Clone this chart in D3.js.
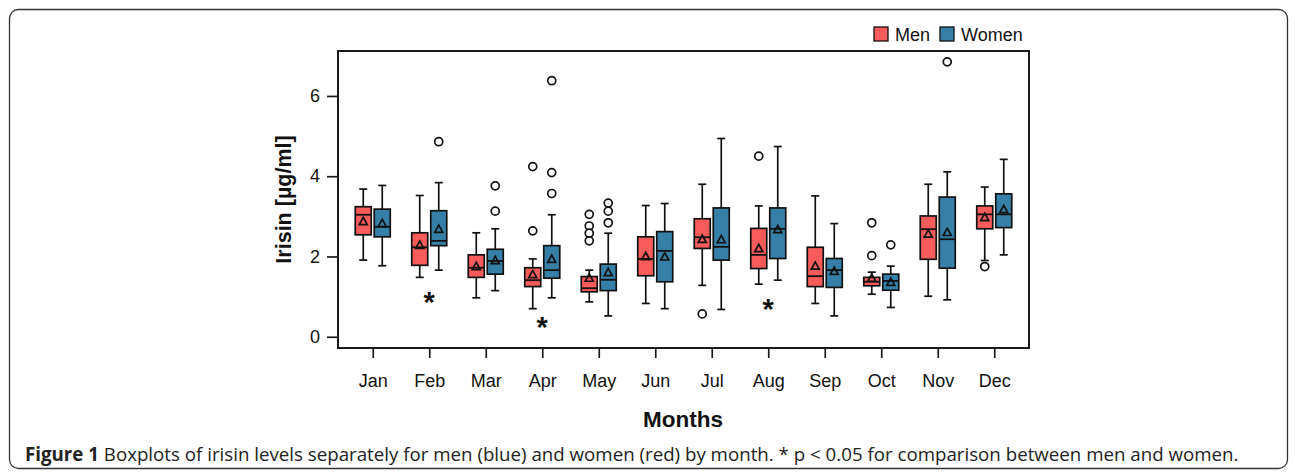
<!DOCTYPE html>
<html>
<head>
<meta charset="utf-8">
<script src="https://cdn.jsdelivr.net/npm/d3@7"></script>
<style>
  body { margin: 0; background: #fff; }
  svg { display: block; }
</style>
</head>
<body>
<div id="chart"></div>
<script>
// months on the x axis
const months = ['Jan', 'Feb', 'Mar', 'Apr', 'May', 'Jun', 'Jul', 'Aug', 'Sep', 'Oct', 'Nov', 'Dec'];
const yTicks = [0, 2, 4, 6];

// men (red)
const menLow    = [1.91, 1.48, 0.97, 0.70, 0.87, 0.83, 1.28, 1.31, 0.83, 1.06, 1.01, 1.90];
const menQ1     = [2.54, 1.78, 1.48, 1.25, 1.12, 1.52, 2.20, 1.70, 1.25, 1.27, 1.93, 2.69];
const menMedian = [3.04, 2.23, 1.72, 1.41, 1.21, 1.94, 2.48, 2.04, 1.51, 1.37, 2.68, 3.05];
const menQ3     = [3.24, 2.59, 2.04, 1.72, 1.50, 2.49, 2.94, 2.70, 2.23, 1.48, 3.01, 3.26];
const menHigh   = [3.68, 3.52, 2.59, 1.94, 1.66, 3.27, 3.80, 3.26, 3.51, 1.61, 3.80, 3.73];
const menMean   = [2.88, 2.29, 1.76, 1.56, 1.47, 2.01, 2.44, 2.21, 1.77, 1.47, 2.57, 2.98];
const menOutliers = [[], [], [], [4.24, 2.64], [3.05, 2.76, 2.58, 2.39], [], [0.57], [4.50], [], [2.84, 2.02], [], [1.75]];

// women (blue)
const womenLow    = [1.77, 1.66, 1.15, 0.97, 0.52, 0.70, 0.68, 1.41, 0.52, 0.73, 0.92, 2.04];
const womenQ1     = [2.49, 2.27, 1.56, 1.46, 1.15, 1.37, 1.91, 1.95, 1.23, 1.16, 1.71, 2.72];
const womenMedian = [2.74, 2.39, 1.89, 1.66, 1.42, 2.14, 2.24, 2.69, 1.66, 1.39, 2.43, 3.05];
const womenQ3     = [3.18, 3.14, 2.18, 2.27, 1.81, 2.62, 3.21, 3.21, 1.95, 1.56, 3.48, 3.56];
const womenHigh   = [3.77, 3.84, 2.69, 3.04, 2.58, 3.32, 4.94, 4.74, 2.82, 1.76, 4.11, 4.42];
const womenMean   = [2.83, 2.69, 1.91, 1.94, 1.61, 2.00, 2.43, 2.68, 1.64, 1.37, 2.61, 3.18];
const womenOutliers = [[], [4.86], [3.76, 3.13], [6.38, 4.09, 3.57], [3.33, 3.13, 2.84], [], [], [], [], [2.29], [6.85], []];

// p < 0.05 markers
const sigMonths = ['Feb', 'Apr', 'Aug'];
const sigY = [1.02, 0.39, 0.83];

const W = 1295, H = 472;
const plot = { left: 338, right: 1029, top: 51, bottom: 348 };
const font = "'Liberation Sans', Arial, sans-serif";

const svg = d3.select('#chart').append('svg')
  .attr('width', W)
  .attr('height', H);

// outer figure frame
svg.append('rect')
  .attr('x', 9.5).attr('y', 9.5)
  .attr('width', 1278).attr('height', 459)
  .attr('rx', 9)
  .attr('fill', 'none')
  .attr('stroke', '#333')
  .attr('stroke-width', 1.3);

const x = d3.scalePoint().domain(months).range([plot.left, plot.right]).padding(0.615);
const y = d3.scaleLinear().domain([-0.28, 7.12]).range([plot.bottom, plot.top]);

const series = [
  { name: 'Men', color: '#f75b5b', off: -9.5, low: menLow, q1: menQ1, med: menMedian, q3: menQ3, high: menHigh, mean: menMean, out: menOutliers },
  { name: 'Women', color: '#3680a8', off: 9.5, low: womenLow, q1: womenQ1, med: womenMedian, q3: womenQ3, high: womenHigh, mean: womenMean, out: womenOutliers }
];

// axes
const yAxis = svg.append('g')
  .attr('transform', `translate(${plot.left},0)`)
  .call(d3.axisLeft(y).tickValues(yTicks).tickSize(11).tickPadding(7));

const xAxis = svg.append('g')
  .attr('transform', `translate(0,${plot.bottom})`)
  .call(d3.axisBottom(x).tickSize(10).tickPadding(16));

[yAxis, xAxis].forEach(g => {
  g.select('.domain').remove();
  g.selectAll('line').attr('stroke', '#1a1a1a').attr('stroke-width', 1.7);
  g.selectAll('text')
    .style('font-family', font)
    .style('font-size', '18px')
    .attr('fill', '#111');
});

// boxes
const boxW = 16, capW = 8;
series.forEach(s => {
  const g = svg.append('g');
  months.forEach((m, i) => {
    const cx = x(m) + s.off;
    // whiskers
    g.append('line')
      .attr('x1', cx).attr('x2', cx)
      .attr('y1', y(s.high[i])).attr('y2', y(s.low[i]))
      .attr('stroke', '#111').attr('stroke-width', 1.7);
    [s.high[i], s.low[i]].forEach(v => {
      g.append('line')
        .attr('x1', cx - capW / 2).attr('x2', cx + capW / 2)
        .attr('y1', y(v)).attr('y2', y(v))
        .attr('stroke', '#111').attr('stroke-width', 1.7);
    });
    // box
    g.append('rect')
      .attr('x', cx - boxW / 2)
      .attr('y', y(s.q3[i]))
      .attr('width', boxW)
      .attr('height', y(s.q1[i]) - y(s.q3[i]))
      .attr('fill', s.color)
      .attr('stroke', '#111')
      .attr('stroke-width', 1.7);
    // median
    g.append('line')
      .attr('x1', cx - boxW / 2).attr('x2', cx + boxW / 2)
      .attr('y1', y(s.med[i])).attr('y2', y(s.med[i]))
      .attr('stroke', '#111').attr('stroke-width', 1.8);
    // mean triangle
    const my = y(s.mean[i]);
    g.append('path')
      .attr('d', `M${cx - 4},${my + 3.5}L${cx + 4},${my + 3.5}L${cx},${my - 3.8}Z`)
      .attr('fill', 'none')
      .attr('stroke', '#111')
      .attr('stroke-width', 1.7)
      .attr('stroke-linejoin', 'miter');
    // outliers
    g.selectAll(null)
      .data(s.out[i])
      .enter().append('circle')
      .attr('cx', cx)
      .attr('cy', d => y(d))
      .attr('r', 4)
      .attr('fill', '#fff')
      .attr('stroke', '#111')
      .attr('stroke-width', 1.7);
  });
});

// significance stars
svg.selectAll('.sig')
  .data(sigMonths)
  .enter().append('text')
  .attr('class', 'sig')
  .attr('x', d => x(d))
  .attr('y', (d, i) => y(sigY[i]) + 16)
  .attr('text-anchor', 'middle')
  .style('font-family', font)
  .style('font-weight', 'bold')
  .style('font-size', '29px')
  .attr('fill', '#111')
  .text('*');

// plot frame
svg.append('rect')
  .attr('x', plot.left).attr('y', plot.top)
  .attr('width', plot.right - plot.left).attr('height', plot.bottom - plot.top)
  .attr('fill', 'none')
  .attr('stroke', '#1a1a1a')
  .attr('stroke-width', 2);

// legend
const legend = svg.selectAll('.legend')
  .data(series)
  .enter().append('g')
  .attr('class', 'legend')
  .attr('transform', (d, i) => `translate(${[874, 940][i]},27)`);

legend.append('rect')
  .attr('width', 14).attr('height', 14)
  .attr('fill', d => d.color)
  .attr('stroke', '#111')
  .attr('stroke-width', 1.3);

legend.append('text')
  .attr('x', 21)
  .attr('y', 13.5)
  .style('font-family', font)
  .style('font-size', '18px')
  .attr('fill', '#111')
  .text(d => d.name);

// axis titles
svg.append('text')
  .attr('x', (plot.left + plot.right) / 2 - 0.5)
  .attr('y', 427)
  .attr('text-anchor', 'middle')
  .style('font-family', font)
  .style('font-weight', 'bold')
  .style('font-size', '22.5px')
  .attr('fill', '#111')
  .text('Months');

svg.append('text')
  .attr('transform', `translate(291,${(plot.top + plot.bottom) / 2}) rotate(-90)`)
  .attr('text-anchor', 'middle')
  .style('font-family', font)
  .style('font-weight', 'bold')
  .style('font-size', '21.5px')
  .attr('fill', '#111')
  .text('Irisin [µg/ml]');

// caption
const cap = svg.append('text')
  .attr('x', 25)
  .attr('y', 461)
  .style('font-family', "'Open Sans', 'Noto Sans', sans-serif")
  .style('font-size', '17px')
  .attr('fill', '#222');
cap.append('tspan').style('font-weight', 'bold').text('Figure 1');
cap.append('tspan').text(' Boxplots of irisin levels separately for men (blue) and women (red) by month. * p < 0.05 for comparison between men and women.');

const capLen = cap.node().getComputedTextLength();
cap.style('font-size', (17 * 1214 / capLen) + 'px');
</script>
</body>
</html>
